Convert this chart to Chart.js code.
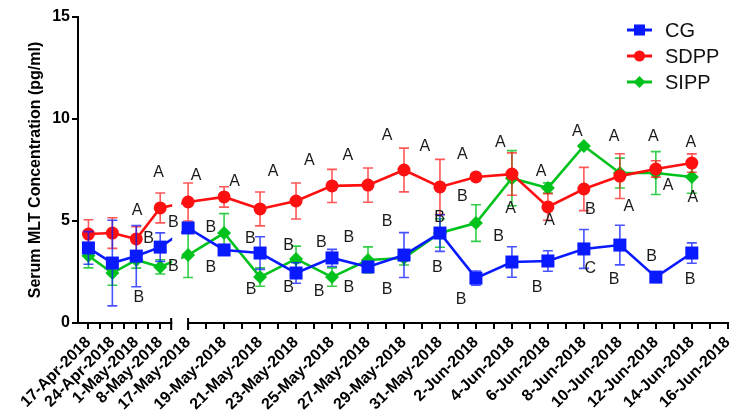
<!DOCTYPE html>
<html><head><meta charset="utf-8">
<script src="https://cdn.jsdelivr.net/npm/chart.js@4.4.1/dist/chart.umd.min.js"></script>
<style>html,body{margin:0;padding:0;background:#fff;}#wrap{width:737px;height:414px;}</style>
</head><body><div id="wrap"><canvas id="c" width="737" height="414"></canvas></div>
<script>
const dates = ['17-Apr-2018','24-Apr-2018','1-May-2018','8-May-2018','17-May-2018','19-May-2018','21-May-2018','23-May-2018','25-May-2018','27-May-2018','29-May-2018','31-May-2018','2-Jun-2018','4-Jun-2018','6-Jun-2018','8-Jun-2018','10-Jun-2018','12-Jun-2018','14-Jun-2018','16-Jun-2018'];
const seriesNames = ['CG','SDPP','SIPP'];
const cgValues   = [3.68,2.94,3.28,3.72,4.66,3.58,3.43,2.45,3.19,2.75,3.33,4.41,2.20,2.99,3.04,3.63,3.82,2.25,3.43];
const cgErrors   = [0.80,2.10,1.50,0.70,0.20,0.15,0.80,0.50,0.42,0.20,1.10,0.90,0.35,0.75,0.50,0.95,0.97,0.10,0.50];
const sdppValues = [4.36,4.41,4.12,5.64,5.93,6.18,5.59,5.98,6.72,6.76,7.50,6.67,7.16,7.30,5.69,6.57,7.20,7.55,7.84];
const sdppErrors = [0.70,0.75,0.60,0.73,0.93,0.50,0.83,0.88,0.81,0.84,1.07,1.35,0.10,1.04,0.65,1.06,1.10,0.40,0.45];
const sippValues = [3.30,2.45,3.09,2.75,3.33,4.41,2.25,3.14,2.25,3.09,3.19,4.41,4.90,7.10,6.62,8.68,7.35,7.35,7.16];
const sippErrors = [0.60,0.60,0.40,0.35,1.10,0.95,0.45,0.63,0.45,0.64,0.35,0.70,0.90,1.35,0.25,0.00,0.73,1.05,0.80];
const yTicks = [0,5,10,15];
const yTitle = 'Serum MLT Concentration (pg/ml)';
// significance letters: position on the x axis (axis units), y value, letter
const annotX = [-0.82,-1.42,-1.10,-1.37,-0.41,-0.41,0.22,0.63,0.63,1.29,1.73,1.75,2.36,2.79,2.79,3.37,3.70,3.64,4.44,4.47,4.47,5.53,5.53,5.53,6.58,7.62,7.62,6.99,6.93,8.68,8.63,7.59,9.81,8.96,10.05,10.82,11.18,11.84,12.25,12.93,13.34,13.97,14.03,9.70,11.18,11.84,12.88,13.95];
const annotY = [7.35,5.49,4.12,1.23,4.90,2.75,7.25,4.66,2.70,6.91,4.12,1.62,7.40,3.77,1.72,7.94,3.92,1.52,8.19,4.17,1.72,9.17,4.95,1.62,8.63,8.24,6.18,5.15,2.70,8.82,4.22,1.13,7.40,5.59,5.00,9.36,5.54,9.12,5.69,9.12,6.76,8.82,6.13,1.72,2.65,2.11,3.24,2.11];
const annotText = ['A','A','B','B','B','B','A','B','B','A','B','B','A','B','B','A','B','B','A','B','B','A','B','B','A','A','B','B','B','A','B','B','A','A','A','A','B','A','A','A','A','A','A','B','C','B','B','B'];

// broken axis layout
const SEG1_COUNT = 4, SEG1_START = -2.77, SEG1_STEP = 0.665, SEG1_END = -0.47;
const X_MIN = -3.06, X_MAX = 15;
function xPos(i){ return i < SEG1_COUNT ? SEG1_START + i*SEG1_STEP : i - SEG1_COUNT; }
const tickPositions = [];
for (let i=0;i<dates.length;i++){
  tickPositions.push(xPos(i));
  if (i < SEG1_COUNT-1) tickPositions.push(xPos(i)+SEG1_STEP/2);
  else if (i >= SEG1_COUNT && i < dates.length-1) tickPositions.push(xPos(i)+0.5);
}
tickPositions.sort((a,b)=>a-b);
function labelFor(v){
  for (let i=0;i<dates.length;i++) if (Math.abs(xPos(i)-v)<1e-6) return dates[i];
  return '';
}
const FONT = "'Liberation Sans', Arial, sans-serif";
const BLUE='#0a1aff', RED='#ff1010', GREEN='#00c21c';
const errAlpha = {[BLUE]:'rgba(10,26,255,0.75)',[RED]:'rgba(255,16,16,0.7)',[GREEN]:'rgba(0,194,28,0.8)'};
const styles = [
  {color:BLUE, point:'rect', r:9.2},
  {color:RED, point:'circle', r:6.5},
  {color:GREEN, point:'rectRot', r:7}
];
const values = [cgValues, sdppValues, sippValues];
const errors = [cgErrors, sdppErrors, sippErrors];

function marker(ctx, style, x, y, r, color){
  ctx.save(); ctx.fillStyle=color; ctx.beginPath();
  if (style==='rect'){ const s=r*Math.SQRT1_2; ctx.rect(x-s,y-s,2*s,2*s); }
  else if (style==='circle'){ ctx.arc(x,y,r,0,Math.PI*2); }
  else { ctx.moveTo(x,y-r); ctx.lineTo(x+r,y); ctx.lineTo(x,y+r); ctx.lineTo(x-r,y); ctx.closePath(); }
  ctx.fill(); ctx.restore();
}

const errorBars = {
  id:'errorBars',
  beforeDatasetDraw(chart, args){
    const i = args.index, ctx = chart.ctx;
    const xs = chart.scales.x, ys = chart.scales.y;
    const col = errAlpha[styles[i].color];
    ctx.save(); ctx.strokeStyle = col; ctx.lineWidth = 1.6;
    values[i].forEach((v,k)=>{
      const e = errors[i][k]; if (!e) return;
      const x = xs.getPixelForValue(xPos(k));
      const y1 = ys.getPixelForValue(v+e), y2 = ys.getPixelForValue(v-e);
      ctx.beginPath();
      ctx.moveTo(x,y1); ctx.lineTo(x,y2);
      ctx.moveTo(x-5,y1); ctx.lineTo(x+5,y1);
      ctx.moveTo(x-5,y2); ctx.lineTo(x+5,y2);
      ctx.stroke();
    });
    ctx.restore();
  }
};

const breakAndText = {
  id:'breakAndText',
  afterDatasetsDraw(chart){
    const ctx = chart.ctx, xs = chart.scales.x, ys = chart.scales.y, ca = chart.chartArea;
    const xe = xs.getPixelForValue(SEG1_END), xs2 = xs.getPixelForValue(0);
    ctx.save();
    ctx.fillStyle = '#fff';
    ctx.fillRect(xe+1, ca.top, 9, ca.bottom - ca.top - 2);
    ctx.fillRect(xe+1, ca.bottom - 3, xs2 - xe - 2, 12);
    ctx.strokeStyle = '#000'; ctx.lineWidth = 2;
    ctx.beginPath();
    ctx.moveTo(xe, ca.bottom - 5); ctx.lineTo(xe, ca.bottom + 7);
    ctx.moveTo(xs2, ca.bottom - 5); ctx.lineTo(xs2, ca.bottom + 7);
    ctx.stroke();
    // significance letters
    ctx.fillStyle = '#1a1a1a';
    ctx.font = '16px ' + FONT;
    ctx.textAlign = 'center'; ctx.textBaseline = 'middle';
    annotText.forEach((t,k)=>{
      ctx.fillText(t, xs.getPixelForValue(annotX[k]), ys.getPixelForValue(annotY[k]));
    });
    // legend
    ctx.font = '20px ' + FONT; ctx.textAlign = 'left'; ctx.fillStyle = '#111';
    seriesNames.forEach((n,k)=>{
      const y = 30 + k*26, x0 = 627, x1 = 652;
      ctx.strokeStyle = styles[k].color; ctx.lineWidth = 3;
      ctx.beginPath(); ctx.moveTo(x0,y); ctx.lineTo(x1,y); ctx.stroke();
      marker(ctx, styles[k].point, (x0+x1)/2, y, styles[k].r*0.85, styles[k].color);
      ctx.fillStyle = '#111';
      ctx.fillText(n, 665, y+1);
    });
    ctx.restore();
  }
};

const datasets = seriesNames.map((n,i)=>({
  label:n,
  data: values[i].map((v,k)=>({x:xPos(k), y:v})),
  borderColor: styles[i].color, backgroundColor: styles[i].color,
  borderWidth: 2.6, pointStyle: styles[i].point, pointRadius: styles[i].r,
  pointBorderWidth: 0, pointBackgroundColor: styles[i].color,
  tension: 0, fill: false, clip: false
}));

new Chart(document.getElementById('c'), {
  type:'line',
  data:{ datasets },
  options:{
    responsive:false, animation:false, devicePixelRatio:1,
    layout:{ padding:{top:17, right:0, left:0, bottom:0} },
    plugins:{ legend:{display:false}, tooltip:{enabled:false} },
    scales:{
      x:{
        type:'linear', min:X_MIN, max:X_MAX,
        afterBuildTicks:(s)=>{ s.ticks = tickPositions.map(v=>({value:v})); },
        ticks:{ autoSkip:false, maxRotation:45, minRotation:45, padding:4, color:'#000',
          font:{family:FONT, size:16, weight:'bold'}, callback:(v)=>labelFor(v) },
        grid:{ drawOnChartArea:false, color:'#000', lineWidth:2, tickLength:6 },
        border:{ color:'#000', width:2 },
        afterFit:(s)=>{ s.height = 91; s.paddingRight = 0; s.paddingLeft = 0; }
      },
      y:{
        type:'linear', min:0, max:15,
        afterBuildTicks:(s)=>{ s.ticks = yTicks.map(v=>({value:v})); },
        ticks:{ color:'#000', padding:2, font:{family:FONT, size:16, weight:'bold'} },
        grid:{ drawOnChartArea:false, color:'#000', lineWidth:2, tickLength:6 },
        border:{ color:'#000', width:2 },
        title:{ display:true, text:yTitle, color:'#000', font:{family:FONT, size:16, weight:'bold'}, padding:{top:26, bottom:0} },
        afterFit:(s)=>{ s.width = 78; }
      }
    }
  },
  plugins:[errorBars, breakAndText]
});
</script></body></html>
